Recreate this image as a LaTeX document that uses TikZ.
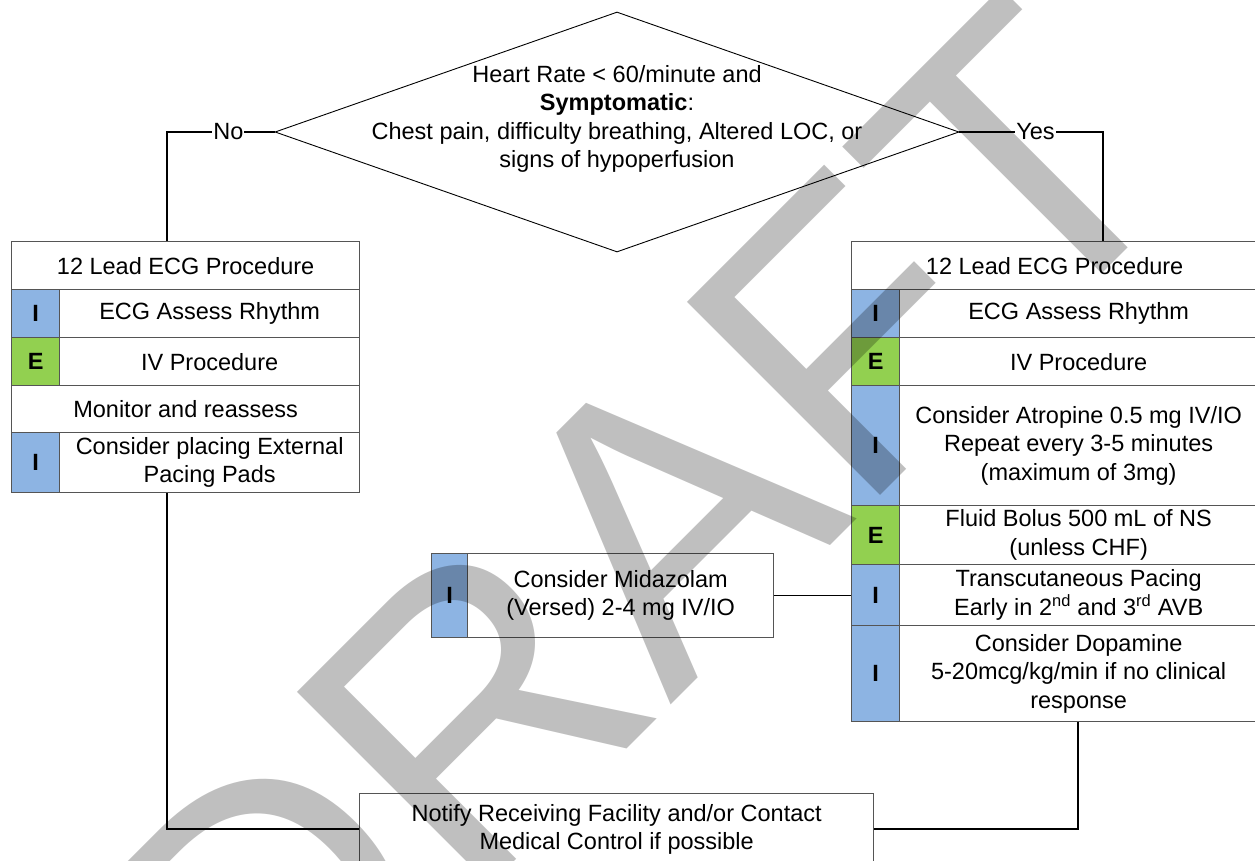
\documentclass[tikz,border=0pt]{standalone}
\usepackage{fontspec}
\setmainfont{Liberation Sans}
\usepackage{tikz}
\usetikzlibrary{shapes.geometric}
\definecolor{tagblue}{RGB}{141,180,227}
\definecolor{taggreen}{RGB}{146,208,80}
\definecolor{boxgray}{RGB}{85,85,85}

\begin{document}
\begin{tikzpicture}[x=1pt, y=-1pt,
    every node/.style={font=\fontsize{23.5}{28.5}\selectfont},
    cell/.style={draw=boxgray, line width=1.3pt, anchor=north west, inner sep=0pt, align=center},
    tagI/.style={cell, fill=tagblue, minimum width=48pt, font=\fontsize{23.5}{28.5}\selectfont\bfseries},
    tagE/.style={cell, fill=taggreen, minimum width=48pt, font=\fontsize{23.5}{28.5}\selectfont\bfseries},
    link/.style={draw=black, line width=1.6pt},
    lbl/.style={fill=white, inner sep=1pt}]
  \useasboundingbox (0,0) rectangle (1255,861);

  % decision
  \node[draw, diamond, line width=0.9pt, minimum width=684pt, minimum height=240pt, inner sep=0pt] (hr) at (617,132) {};
  \node[align=center, inner sep=0pt] (hrtext) at (617,119)
    {Heart Rate < 60/minute and\\ \textbf{Symptomatic}:\\
     Chest pain, difficulty breathing, Altered LOC, or\\ signs of hypoperfusion};

  % no branch
  \node[cell, minimum width=348pt, minimum height=48pt] (lhead) at (11,241) {12 Lead ECG Procedure};
  \node[tagI, minimum height=48pt] (ltag1) at (11,289) {I};
  \node[cell, minimum width=300pt, minimum height=48pt] (lecg) at (59,289) {ECG Assess Rhythm};
  \node[tagE, minimum height=48pt] (ltag2) at (11,337) {E};
  \node[cell, minimum width=300pt, minimum height=48pt] (liv) at (59,337) {IV Procedure};
  \node[cell, minimum width=348pt, minimum height=47pt] (lmon) at (11,385) {Monitor and reassess};
  \node[tagI, minimum height=60pt] (ltag3) at (11,432) {I};
  \node[cell, minimum width=300pt, minimum height=60pt] (lpads) at (59,432) {Consider placing External\\ Pacing Pads};

  % yes branch
  \node[cell, minimum width=406pt, minimum height=48pt] (rhead) at (851,241) {12 Lead ECG Procedure};
  \node[tagI, minimum height=48pt] (rtag1) at (851,289) {I};
  \node[cell, minimum width=358pt, minimum height=48pt] (recg) at (899,289) {ECG Assess Rhythm};
  \node[tagE, minimum height=48pt] (rtag2) at (851,337) {E};
  \node[cell, minimum width=358pt, minimum height=48pt] (riv) at (899,337) {IV Procedure};
  \node[tagI, minimum height=120pt] (rtag3) at (851,385) {I};
  \node[cell, minimum width=358pt, minimum height=120pt] (ratro) at (899,385)
    {Consider Atropine 0.5 mg IV/IO\\ Repeat every 3-5 minutes\\ (maximum of 3mg)};
  \node[tagE, minimum height=59pt] (rtag4) at (851,505) {E};
  \node[cell, minimum width=358pt, minimum height=59pt] (rfluid) at (899,505) {Fluid Bolus 500 mL of NS\\ (unless CHF)};
  \node[tagI, minimum height=61pt] (rtag5) at (851,564) {I};
  \node[cell, minimum width=358pt, minimum height=61pt] (rpace) at (899,564)
    {Transcutaneous Pacing\\ Early in 2\textsuperscript{nd} and 3\textsuperscript{rd} AVB};
  \node[tagI, minimum height=96pt] (rtag6) at (851,625) {I};
  \node[cell, minimum width=358pt, minimum height=96pt] (rdop) at (899,625)
    {Consider Dopamine\\ 5-20mcg/kg/min if no clinical\\ response};

  % sedation
  \node[tagI, minimum width=36pt, minimum height=84pt] (mtag) at (431,553) {I};
  \node[cell, minimum width=306pt, minimum height=84pt] (mmid) at (467,553) {Consider Midazolam\\ (Versed) 2-4 mg IV/IO};

  % contact
  \node[cell, minimum width=514pt, minimum height=72pt] (notify) at (359,793)
    {Notify Receiving Facility and/or Contact\\ Medical Control if possible};

  % connectors
  \coordinate (nocorner) at (167,132);
  \coordinate (yescorner) at (1103,132);
  \coordinate (lcorner) at (167,829);
  \coordinate (rcorner) at (1078,829);
  \draw[link] (hr.west) -- node[lbl, pos=0.43] (nolab) {No} (nocorner) -- (nocorner |- lhead.north);
  \draw[link] (hr.east) -- node[lbl, pos=0.53] (yeslab) {Yes} (yescorner) -- (yescorner |- rhead.north);
  \draw[link] (lpads.south -| lcorner) -- (lcorner) -- (notify.west |- lcorner);
  \draw[link] (rdop.south -| rcorner) -- (rcorner) -- (notify.east |- rcorner);
  \draw[link, line width=1.3pt] (mmid.east) -- (mmid.east -| rtag5.west);

  % watermark
  \node[rotate=45, anchor=base west, inner sep=0pt, text=black, text opacity=0.25,
        font=\fontsize{397}{397}\selectfont] (wm) at (265,1111) {DRAFT};
\end{tikzpicture}
\end{document}
